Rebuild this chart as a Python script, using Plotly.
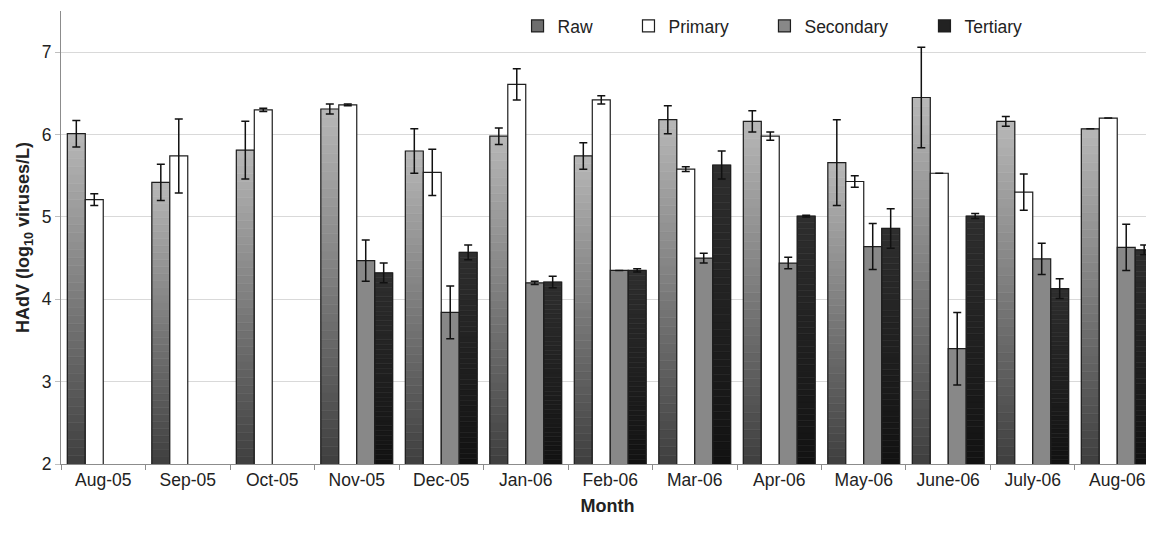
import plotly.graph_objects as go

months = ["Aug-05", "Sep-05", "Oct-05", "Nov-05", "Dec-05", "Jan-06", "Feb-06",
          "Mar-06", "Apr-06", "May-06", "June-06", "July-06", "Aug-06"]

raw = [6.01, 5.42, 5.81, 6.31, 5.80, 5.98, 5.74, 6.18, 6.16, 5.66, 6.45, 6.16, 6.07]
raw_err = [0.16, 0.22, 0.35, 0.06, 0.27, 0.10, 0.16, 0.17, 0.13, 0.52, 0.61, 0.06, None]

primary = [5.21, 5.74, 6.30, 6.36, 5.54, 6.61, 6.42, 5.58, 5.98, 5.43, 5.53, 5.30, 6.20]
primary_err = [0.07, 0.45, 0.02, 0.01, 0.28, 0.19, 0.05, 0.03, 0.05, 0.07, None, 0.22, None]

secondary = [None, None, None, 4.47, 3.84, 4.20, 4.35, 4.50, 4.44, 4.64, 3.40, 4.49, 4.63]
secondary_err = [None, None, None, 0.25, 0.32, 0.02, None, 0.06, 0.07, 0.28, 0.44, 0.19, 0.28]

tertiary = [None, None, None, 4.32, 4.57, 4.21, 4.35, 5.63, 5.01, 4.86, 5.01, 4.13, 4.60]
tertiary_err = [None, None, None, 0.12, 0.09, 0.07, 0.02, 0.17, 0.01, 0.24, 0.03, 0.12, 0.06]

series_names = ["Raw", "Primary", "Secondary", "Tertiary"]

# ---- styling ----
Y_MIN = 2.0
BAR_W = 0.2125
OFFSETS = [-0.425, -0.2125, 0.0, 0.2125]
OUTLINE = "#1e1e1e"
ERR_COLOR = "#111111"
N_SEG = 40
FONT = "Liberation Sans, Arial, sans-serif"
TXT = "#222222"

def lerp_color(c0, c1, t):
    r = round(c0[0] + (c1[0] - c0[0]) * t)
    g = round(c0[1] + (c1[1] - c0[1]) * t)
    b = round(c0[2] + (c1[2] - c0[2]) * t)
    return f"rgb({r},{g},{b})"

fig = go.Figure()

def gradient_bars(values, bottom_rgb, top_rgb, offset):
    """Vertical gradient fill built from stacked bar slices of each value."""
    for k in range(N_SEG):
        bases, heights = [], []
        for v in values:
            if v is None:
                bases.append(None)
                heights.append(None)
            else:
                h = (v - Y_MIN) / N_SEG
                bases.append(Y_MIN + k * h)
                heights.append(h)
        col = lerp_color(bottom_rgb, top_rgb, (k + 0.5) / N_SEG)
        fig.add_trace(go.Bar(
            x=months, y=heights, base=bases, width=BAR_W, offset=offset,
            marker=dict(color=col, line=dict(color=col, width=0.6)),
            showlegend=False, hoverinfo="skip",
        ))

def err_dict(errs):
    return dict(type="data", array=errs, visible=True, color=ERR_COLOR,
                thickness=1.5, width=4)

# Raw: gradient light (top) -> dark (bottom)
gradient_bars(raw, (62, 62, 62), (184, 184, 184), OFFSETS[0])
# Tertiary: gradient dark
gradient_bars(tertiary, (18, 18, 18), (46, 46, 46), OFFSETS[3])

fig.add_trace(go.Bar(
    x=months, y=raw, width=BAR_W, offset=OFFSETS[0], name="Raw",
    marker=dict(color="rgba(0,0,0,0)", line=dict(color=OUTLINE, width=1.2)),
    error_y=err_dict(raw_err), showlegend=False,
))
fig.add_trace(go.Bar(
    x=months, y=primary, width=BAR_W, offset=OFFSETS[1], name="Primary",
    marker=dict(color="#ffffff", line=dict(color=OUTLINE, width=1.2)),
    error_y=err_dict(primary_err), showlegend=False,
))
fig.add_trace(go.Bar(
    x=months, y=secondary, width=BAR_W, offset=OFFSETS[2], name="Secondary",
    marker=dict(color="#888888", line=dict(color=OUTLINE, width=1.2)),
    error_y=err_dict(secondary_err), showlegend=False,
))
fig.add_trace(go.Bar(
    x=months, y=tertiary, width=BAR_W, offset=OFFSETS[3], name="Tertiary",
    marker=dict(color="rgba(0,0,0,0)", line=dict(color=OUTLINE, width=1.2)),
    error_y=err_dict(tertiary_err), showlegend=False,
))

# legend entries, each in its own legend box so spacing can follow the reference
legend_fill = ["#6e6e6e", "#ffffff", "#888888", "#222222"]
legend_ids = ["legend", "legend2", "legend3", "legend4"]
legend_x = [0.4177, 0.5192, 0.6436, 0.7900]
for name, col, lid in zip(series_names, legend_fill, legend_ids):
    fig.add_trace(go.Bar(
        x=[months[0]], y=[None], name=name, width=BAR_W,
        marker=dict(color=col, line=dict(color=OUTLINE, width=1.2)),
        showlegend=True, legend=lid,
    ))

legend_common = dict(
    orientation="h", xanchor="left", y=0.967, yanchor="middle",
    bgcolor="rgba(0,0,0,0)", font=dict(size=17.5, color=TXT),
)

fig.update_layout(
    width=1146, height=538,
    margin=dict(l=53, r=0, t=2, b=82),
    barmode="overlay",
    plot_bgcolor="white", paper_bgcolor="white",
    font=dict(family=FONT, size=17.5, color=TXT),
    legend=dict(x=legend_x[0], **legend_common),
    legend2=dict(x=legend_x[1], **legend_common),
    legend3=dict(x=legend_x[2], **legend_common),
    legend4=dict(x=legend_x[3], **legend_common),
    xaxis=dict(
        type="category", range=[-0.5, 12.435],
        tickson="boundaries", ticks="outside", ticklen=5, tickcolor="#8c8c8c",
        showline=True, linecolor="#8c8c8c", linewidth=1,
        showgrid=False, zeroline=False,
        tickfont=dict(size=17.5, color=TXT),
        title=dict(text="<b>Month</b>", font=dict(size=18, color=TXT), standoff=10),
    ),
    yaxis=dict(
        range=[2, 7.5], tickvals=[2, 3, 4, 5, 6, 7],
        ticks="outside", ticklen=5, tickcolor="#bfbfbf",
        showline=True, linecolor="#8c8c8c", linewidth=1,
        showgrid=True, gridcolor="#d9d9d9", gridwidth=1, zeroline=False,
        tickfont=dict(size=17.5, color=TXT),
        title=dict(text="<b>HAdV (log<sub>10</sub> viruses/L)</b>",
                   font=dict(size=18, color=TXT), standoff=7),
    ),
)

fig.write_html("out.html")
